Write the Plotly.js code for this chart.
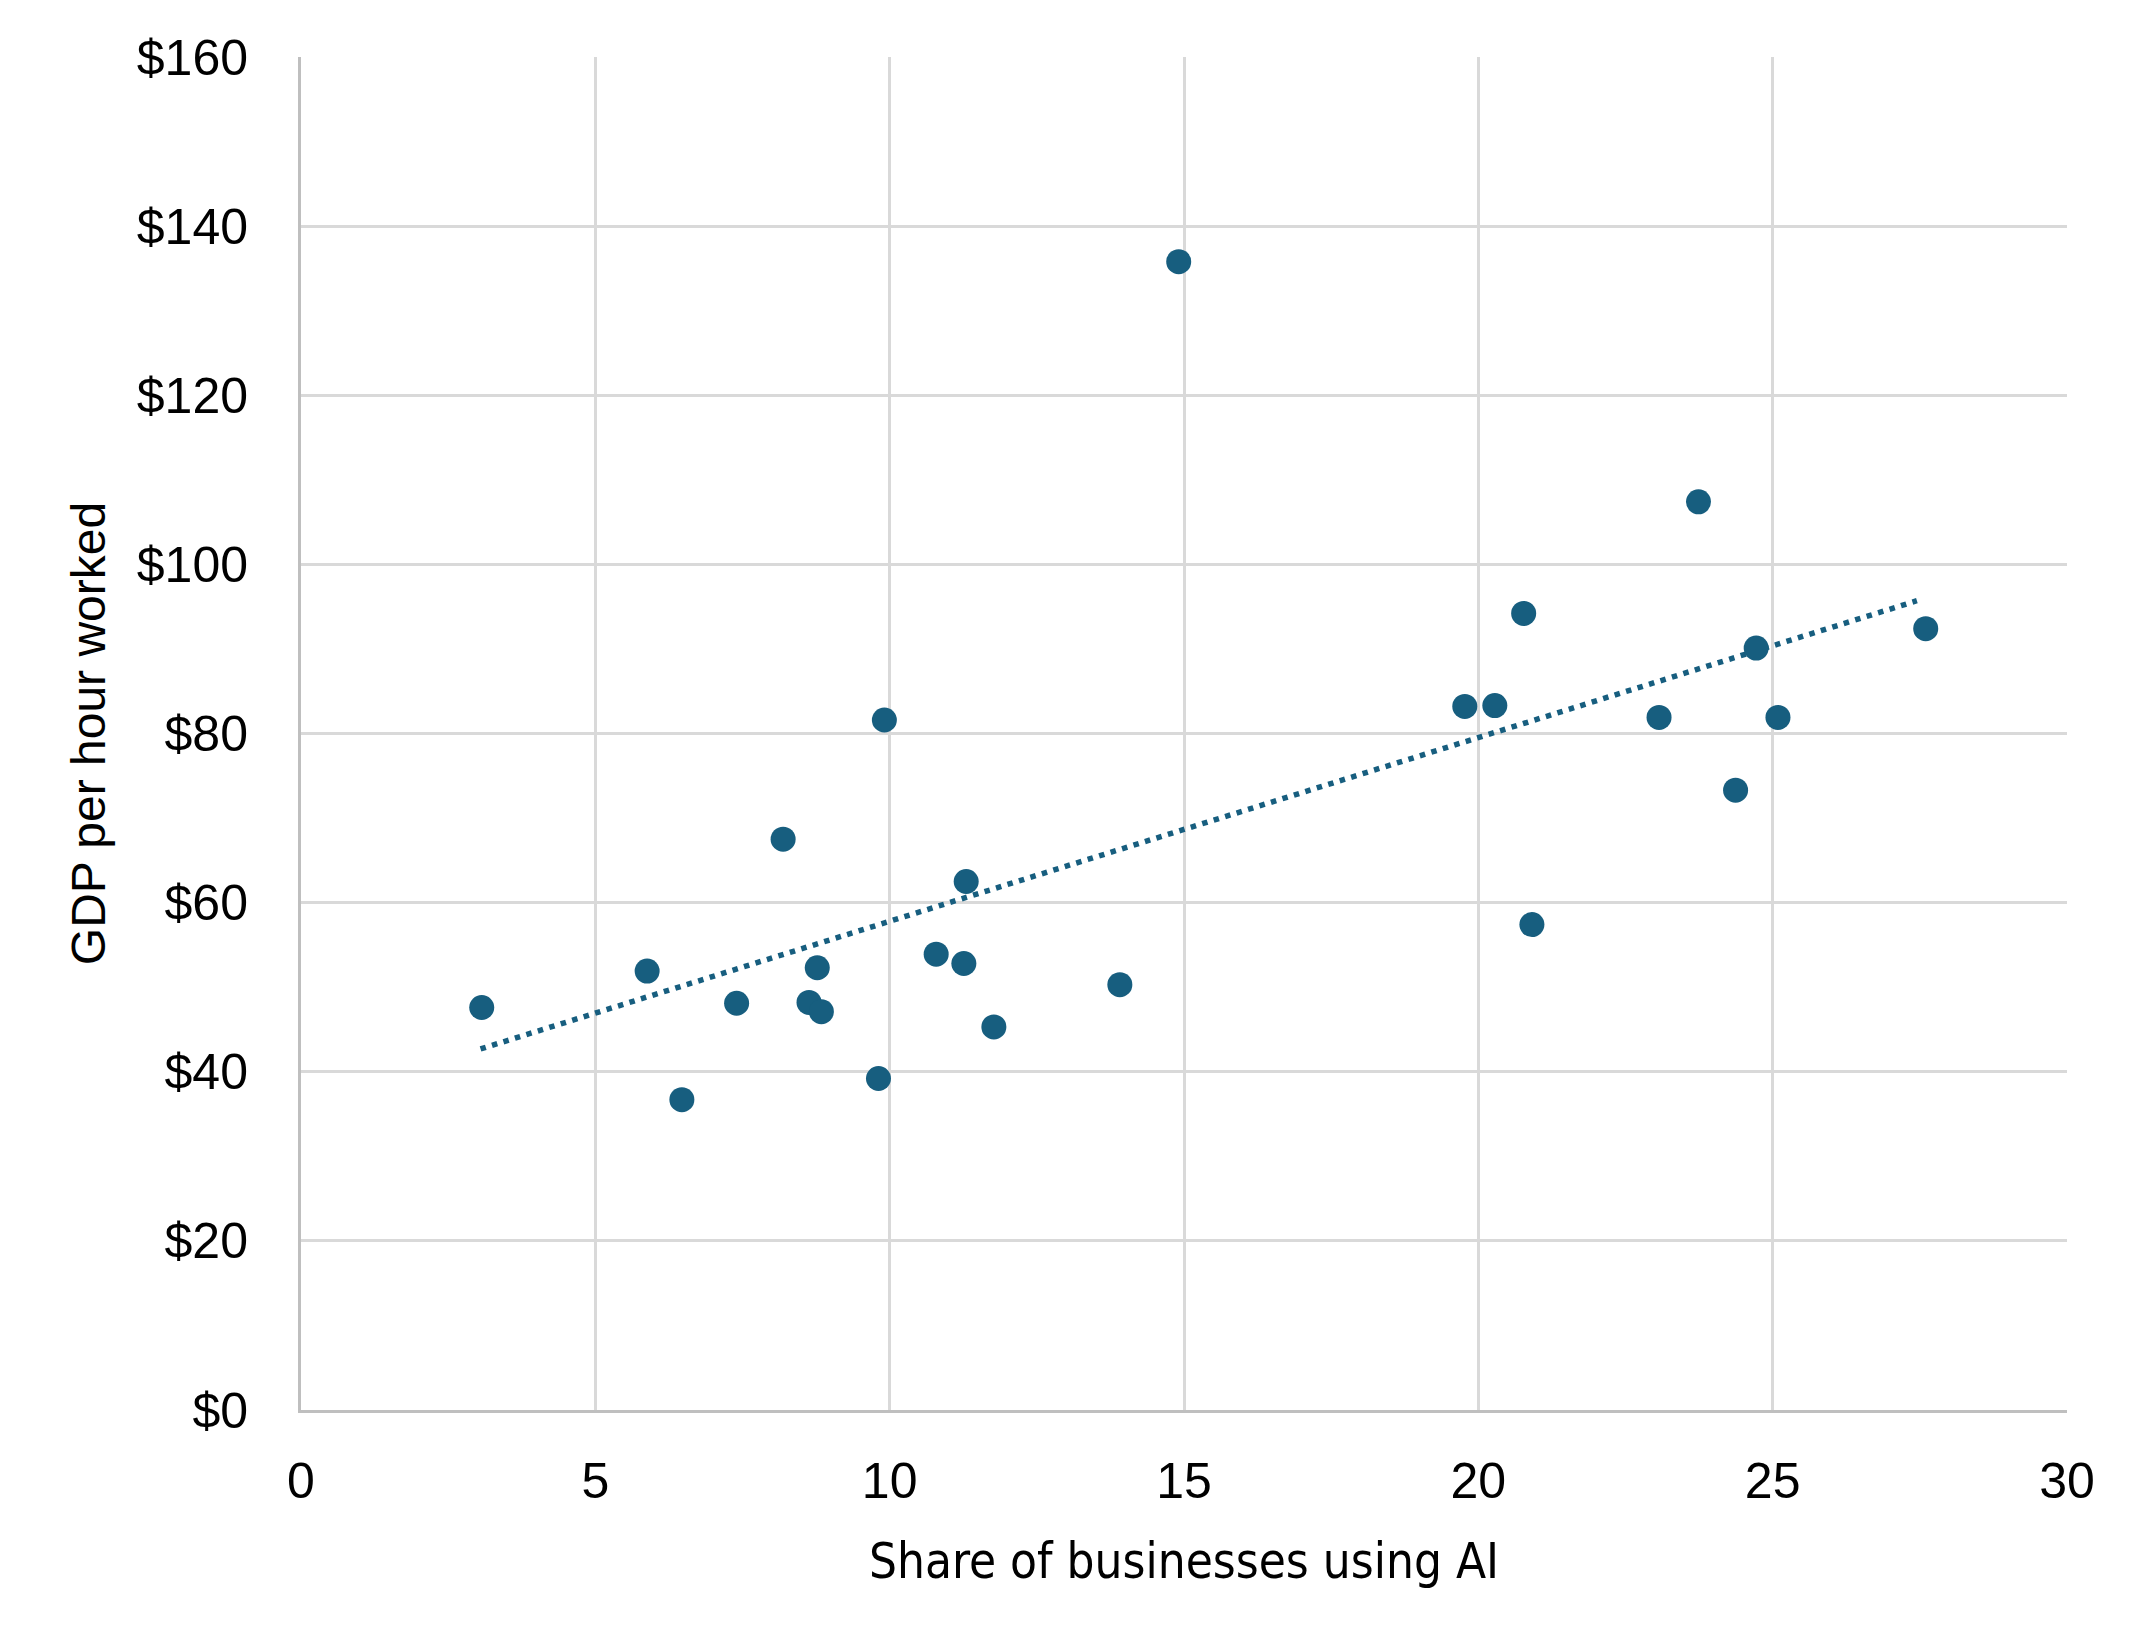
<!DOCTYPE html>
<html>
<head>
<meta charset="utf-8">
<script src="https://cdn.plot.ly/plotly-3.0.1.min.js"></script>
<style>
  html, body { margin: 0; padding: 0; background: #fff; }
  #chart { width: 2145px; height: 1650px; }
</style>
</head>
<body>
<div id="chart"></div>
<script>
// share of businesses using AI (%) and GDP per hour worked ($)
const aiShare = [3.07, 5.88, 6.47, 7.40, 8.19, 8.63, 8.77, 8.84, 9.81, 9.91,
  10.79, 11.26, 11.30, 11.77, 13.91, 14.91, 19.77, 20.28, 20.77, 20.91,
  23.07, 23.74, 24.37, 24.72, 25.09, 27.60];
const gdpPerHour = [47.6, 51.9, 36.7, 48.1, 67.5, 48.2, 52.3, 47.1, 39.2, 81.6,
  53.9, 52.8, 62.5, 45.3, 50.3, 135.8, 83.2, 83.3, 94.2, 57.4,
  81.9, 107.4, 73.3, 90.1, 81.9, 92.4];

// linear trendline end points as drawn
const trendX = [3.05, 27.45];
const trendY = [42.7, 95.7];

const xTicks = [0, 5, 10, 15, 20, 25, 30];
const yTicks = [0, 20, 40, 60, 80, 100, 120, 140, 160];
const yTickText = ['$0', '$20', '$40', '$60', '$80', '$100', '$120', '$140', '$160'];

const dotColor = '#175E7F';
const gridColor = '#d9d9d9';
const lineColor = '#bfbfbf';

const traces = [
  {
    x: trendX,
    y: trendY,
    type: 'scatter',
    mode: 'lines',
    line: { color: dotColor, width: 5.5, dash: '5.5px,6.5px' },
    hoverinfo: 'skip',
  },
  {
    x: aiShare,
    y: gdpPerHour,
    type: 'scatter',
    mode: 'markers',
    marker: { color: dotColor, size: 25 },
  },
];

const layout = {
  width: 2145,
  height: 1650,
  margin: { l: 301, r: 78, t: 57, b: 240 },
  paper_bgcolor: '#fff',
  plot_bgcolor: '#fff',
  showlegend: false,
  font: { family: 'Liberation Sans, Arial, sans-serif', size: 50, color: '#000' },
  xaxis: {
    range: [0, 30],
    tickvals: xTicks,
    ticks: 'outside',
    ticklen: 25,
    tickcolor: 'rgba(0,0,0,0)',
    showgrid: true,
    gridcolor: gridColor,
    gridwidth: 3,
    zeroline: false,
    showline: true,
    linecolor: lineColor,
    linewidth: 3,
    tickfont: { size: 50 },
    title: {
      text: 'Share of businesses using AI',
      font: { family: 'Liberation Sans Narrow, DejaVu Sans Condensed, Roboto Condensed, Liberation Sans, sans-serif', size: 49 },
      standoff: 36,
    },
  },
  yaxis: {
    range: [0, 160],
    tickvals: yTicks,
    ticktext: yTickText,
    ticks: 'outside',
    ticklen: 40,
    tickcolor: 'rgba(0,0,0,0)',
    showgrid: true,
    gridcolor: gridColor,
    gridwidth: 3,
    zeroline: false,
    showline: true,
    linecolor: lineColor,
    linewidth: 3,
    tickfont: { size: 50 },
    title: {
      text: 'GDP per hour worked',
      font: { size: 48 },
      standoff: 16,
    },
  },
};

Plotly.newPlot('chart', traces, layout, { staticPlot: true });
</script>
</body>
</html>
